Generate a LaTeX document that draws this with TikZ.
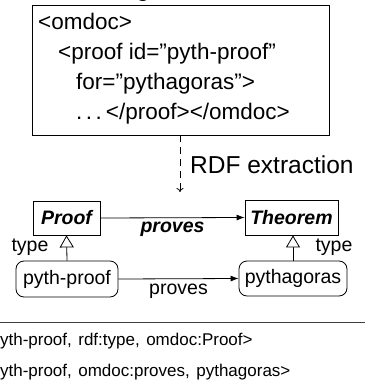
\documentclass[tikz,border=0pt]{standalone}
\usepackage{fontspec}
\setmainfont{Liberation Sans}
\usetikzlibrary{arrows.meta}
\tikzset{
  xmltext/.style={anchor=base west, inner sep=0pt, font=\fontsize{22.5}{27}\selectfont},
  cls/.style={draw, line width=0.8pt, inner sep=0pt, font=\fontsize{19.5}{23}\selectfont\bfseries\itshape},
  inst/.style={draw, line width=0.8pt, rounded corners=8pt, inner sep=0pt, font=\fontsize{19.5}{23}\selectfont},
  lbl/.style={inner sep=0pt, font=\fontsize{19.5}{23}\selectfont},
  typeedge/.style={line width=0.8pt, -{Triangle[open, length=12pt, width=14pt, fill=white]}},
  relarrow/.style={line width=0.8pt, -{Latex[length=8pt, width=6pt]}},
  triple/.style={anchor=base west, inner sep=0pt, font=\fontsize{17}{21}\selectfont},
}
\begin{document}
\begin{tikzpicture}[x=1pt,y=-1pt]
\useasboundingbox (0,0) rectangle (365,385);
\clip (0,0) rectangle (365,385);
% cropped title fragment
\node[anchor=base, inner sep=0pt, font=\fontsize{24}{28}\selectfont] (title) at (143,-3) {g};
% XML box
\draw[line width=0.8pt] (32,5) rectangle (329,135);
\node[xmltext] (l1) at (38,30) {<omdoc>};
\node[xmltext] (l2) at (58,60) {<proof id=\symbol{"22}pyth-proof\symbol{"22}};
\node[xmltext] (l3) at (76,90) {for=\symbol{"22}pythagoras\symbol{"22}>};
\node[xmltext] (l4) at (76,120) {.\hspace{3.5pt}.\hspace{3.5pt}.\hspace{4pt}</proof></omdoc>};
\coordinate (boxbot) at (180,135);
\coordinate (arrtip) at (180,192);
\draw[line width=0.8pt, dash pattern=on 7pt off 5pt, -{To[length=4pt,width=7pt]}] (boxbot) -- (arrtip);
\node[anchor=base west, inner sep=0pt, font=\fontsize{24.5}{29}\selectfont] (rdf) at (190,173) {RDF extraction};
% classes
\node[cls, minimum width=67pt, minimum height=34pt] (proof) at (66.5,218) {Proof};
\node[cls, minimum width=93pt, minimum height=35pt] (thm) at (291.5,217.5) {Theorem};
\draw[relarrow] (proof.east) -- node[below=4pt, lbl, font=\fontsize{19.5}{23}\selectfont\bfseries\itshape] (pl1) {proves} (thm.west);
% instances
\node[inst, minimum width=102pt, minimum height=36pt] (pp) at (67,279) {pyth-proof};
\node[inst, minimum width=108pt, minimum height=35pt] (py) at (293,278.5) {pythagoras};
\draw[relarrow] (pp.east) -- node[below=5pt, lbl] (pl2) {proves} (py.west);
\draw[typeedge] (pp.north) -- (proof.south);
\draw[typeedge] (py.north) -- (py.north |- thm.south);
\node[lbl] (t1) at (30,247) {type};
\node[lbl] (t2) at (334,247) {type};
% separator and triples
\draw[line width=0.8pt, black!75] (0,322) -- (365,322);
\node[triple] (tr1) at (-19.5,345) {<pyth-proof,\hspace{6.5pt}rdf:type,\hspace{6.5pt}omdoc:Proof>};
\node[triple] (tr2) at (-19.5,376) {<pyth-proof,\hspace{6.5pt}omdoc:proves,\hspace{6.5pt}pythagoras>};
\end{tikzpicture}
\end{document}
